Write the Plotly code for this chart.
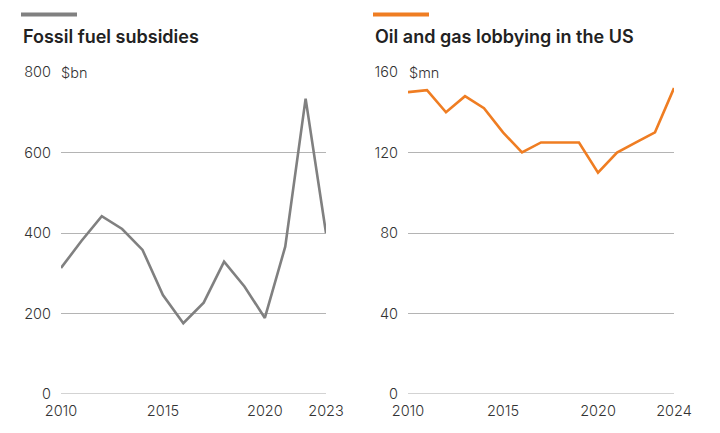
import plotly.graph_objects as go

# Data
subsidy_years = list(range(2010, 2024))
subsidy_values = [313, 380, 442, 410, 358, 246, 176, 227, 329, 267, 189, 366, 734, 400]

lobby_years = list(range(2010, 2025))
lobby_values = [150, 151, 140, 148, 142, 130, 120, 125, 125, 125, 110, 120, 125, 130, 152]

left_ticks_x = [2010, 2015, 2020, 2023]
right_ticks_x = [2010, 2015, 2020, 2024]
left_ticks_y = [0, 200, 400, 600, 800]
right_ticks_y = [0, 40, 80, 120, 160]

titles = ["Fossil fuel subsidies", "Oil and gas lobbying in the US"]
units = ["$bn", "$mn"]

GRAY = "#808080"
ORANGE = "#EF7D22"
TEXT = "#222222"
GRID = "#b4b4b4"
FONT = "Inter"

OFF = 8  # page body margin
W, H = 720 - OFF, 433 - OFF
def px(x):
    return (x - OFF) / W
def py(y):
    return 1 - (y - OFF) / H

fig = go.Figure()
fig.add_trace(go.Scatter(x=subsidy_years, y=subsidy_values, mode="lines",
                         line=dict(color=GRAY, width=2.6), xaxis="x", yaxis="y",
                         hoverinfo="skip"))
fig.add_trace(go.Scatter(x=lobby_years, y=lobby_values, mode="lines",
                         line=dict(color=ORANGE, width=2.6), xaxis="x2", yaxis="y2",
                         hoverinfo="skip"))

tickfont = dict(family=FONT, size=14.5, color="#333333", weight=300)
common_x = dict(showgrid=False, zeroline=False, showline=False, ticks="", automargin=False,
                tickfont=tickfont, tickmode="array", ticklabelstandoff=6, fixedrange=True)
common_y = dict(showgrid=True, gridcolor=GRID, gridwidth=1, zeroline=False, showline=False,
                automargin=False, ticks="", tickfont=tickfont, tickmode="array",
                ticklabelstandoff=9, fixedrange=True)

ydom = [py(394), py(72)]
fig.update_layout(
    width=W, height=H,
    margin=dict(l=0, r=0, t=0, b=0, autoexpand=False),
    paper_bgcolor="white", plot_bgcolor="white",
    showlegend=False,
    xaxis=dict(common_x, domain=[px(61), px(326)], range=[2010, 2023],
               tickvals=left_ticks_x, ticktext=[str(v) for v in left_ticks_x], anchor="y"),
    yaxis=dict(common_y, domain=ydom, range=[0, 800], tickvals=left_ticks_y,
               ticktext=[str(v) for v in left_ticks_y], anchor="x"),
    xaxis2=dict(common_x, domain=[px(408), px(674)], range=[2010, 2024],
                tickvals=right_ticks_x, ticktext=[str(v) for v in right_ticks_x], anchor="y2"),
    yaxis2=dict(common_y, domain=ydom, range=[0, 160], tickvals=right_ticks_y,
                ticktext=[str(v) for v in right_ticks_y], anchor="x2"),
)

# zero lines slightly darker
for xr, yr in (("x", "y"), ("x2", "y2")):
    fig.add_shape(type="line", xref=f"{xr} domain", yref=yr, x0=0, x1=1, y0=0, y1=0,
                  line=dict(color="#c4c4c4", width=1.5), layer="below")

# colored header bars
fig.add_shape(type="line", xref="paper", yref="paper", x0=px(21), x1=px(77),
              y0=py(14.5), y1=py(14.5), line=dict(color=GRAY, width=4))
fig.add_shape(type="line", xref="paper", yref="paper", x0=px(373), x1=px(429),
              y0=py(14.5), y1=py(14.5), line=dict(color=ORANGE, width=4))

# titles
for x0, t in ((21, titles[0]), (373, titles[1])):
    fig.add_annotation(text=t, xref="paper", yref="paper", x=px(x0), y=py(36),
                       xanchor="left", yanchor="middle", showarrow=False,
                       font=dict(family=FONT, size=18, color=TEXT, weight=600))

# unit labels covering start of top gridline
fig.add_annotation(text=units[0], xref="x", yref="y", x=2010, y=800, xanchor="left",
                   yanchor="middle", showarrow=False, xshift=-4, bgcolor="white", borderpad=3,
                   font=tickfont)
fig.add_annotation(text=units[1], xref="x2", yref="y2", x=2010, y=160, xanchor="left",
                   yanchor="middle", showarrow=False, xshift=-3, bgcolor="white", borderpad=3,
                   font=tickfont)

fig.write_html("out.html")
